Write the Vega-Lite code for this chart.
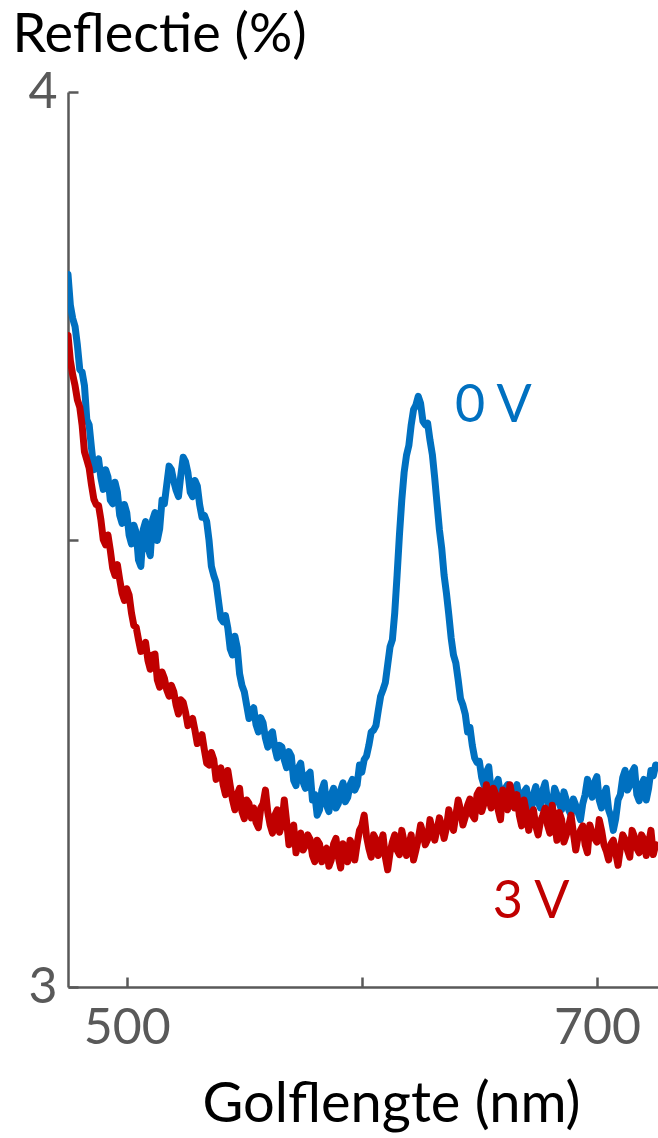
{
  "$schema": "https://vega.github.io/schema/vega-lite/v6.json",
  "width": 590,
  "height": 895,
  "autosize": {"type": "none"},
  "padding": {"left": 68, "top": 92, "right": 0, "bottom": 151},
  "background": "white",
  "config": {
    "view": {"stroke": null},
    "font": "Lato",
    "axis": {
      "grid": false,
      "domainColor": "#595959",
      "domainWidth": 2.5,
      "tickColor": "#595959",
      "tickWidth": 2.5,
      "tickSize": -10,
      "labelColor": "#595959",
      "labelFont": "Lato",
      "labelFontSize": 50,
      "labelFlush": false,
      "labelOverlap": false,
      "titleFont": "Lato",
      "titleFontWeight": "normal",
      "titleColor": "#000000"
    }
  },
  "datasets": {
    "spectra": [
      {"nm": 475, "b": 3.796, "r": 3.728},
      {"nm": 476, "b": 3.762, "r": 3.700},
      {"nm": 477, "b": 3.747, "r": 3.684},
      {"nm": 478, "b": 3.738, "r": 3.672},
      {"nm": 479, "b": 3.717, "r": 3.656},
      {"nm": 480, "b": 3.690, "r": 3.648},
      {"nm": 481, "b": 3.687, "r": 3.628},
      {"nm": 482, "b": 3.672, "r": 3.598},
      {"nm": 483, "b": 3.634, "r": 3.589},
      {"nm": 484, "b": 3.628, "r": 3.580},
      {"nm": 485, "b": 3.602, "r": 3.561},
      {"nm": 486, "b": 3.578, "r": 3.545},
      {"nm": 487, "b": 3.587, "r": 3.539},
      {"nm": 488, "b": 3.590, "r": 3.538},
      {"nm": 489, "b": 3.569, "r": 3.522},
      {"nm": 490, "b": 3.556, "r": 3.500},
      {"nm": 491, "b": 3.578, "r": 3.494},
      {"nm": 492, "b": 3.570, "r": 3.505},
      {"nm": 493, "b": 3.544, "r": 3.488},
      {"nm": 494, "b": 3.540, "r": 3.468},
      {"nm": 495, "b": 3.564, "r": 3.460},
      {"nm": 496, "b": 3.553, "r": 3.472},
      {"nm": 497, "b": 3.527, "r": 3.455},
      {"nm": 498, "b": 3.518, "r": 3.440},
      {"nm": 499, "b": 3.539, "r": 3.432},
      {"nm": 500, "b": 3.530, "r": 3.445},
      {"nm": 501, "b": 3.505, "r": 3.438},
      {"nm": 502, "b": 3.495, "r": 3.418},
      {"nm": 503, "b": 3.516, "r": 3.404},
      {"nm": 504, "b": 3.508, "r": 3.402},
      {"nm": 505, "b": 3.477, "r": 3.388},
      {"nm": 506, "b": 3.470, "r": 3.375},
      {"nm": 507, "b": 3.511, "r": 3.377},
      {"nm": 508, "b": 3.520, "r": 3.385},
      {"nm": 509, "b": 3.491, "r": 3.365},
      {"nm": 510, "b": 3.482, "r": 3.355},
      {"nm": 511, "b": 3.522, "r": 3.371},
      {"nm": 512, "b": 3.530, "r": 3.372},
      {"nm": 513, "b": 3.499, "r": 3.343},
      {"nm": 514, "b": 3.512, "r": 3.335},
      {"nm": 515, "b": 3.544, "r": 3.352},
      {"nm": 516, "b": 3.540, "r": 3.345},
      {"nm": 517, "b": 3.561, "r": 3.332},
      {"nm": 518, "b": 3.582, "r": 3.325},
      {"nm": 519, "b": 3.578, "r": 3.337},
      {"nm": 520, "b": 3.565, "r": 3.330},
      {"nm": 521, "b": 3.555, "r": 3.315},
      {"nm": 522, "b": 3.548, "r": 3.305},
      {"nm": 523, "b": 3.572, "r": 3.321},
      {"nm": 524, "b": 3.592, "r": 3.318},
      {"nm": 525, "b": 3.587, "r": 3.307},
      {"nm": 526, "b": 3.575, "r": 3.292},
      {"nm": 527, "b": 3.553, "r": 3.296},
      {"nm": 528, "b": 3.548, "r": 3.300},
      {"nm": 529, "b": 3.566, "r": 3.287},
      {"nm": 530, "b": 3.560, "r": 3.272},
      {"nm": 531, "b": 3.539, "r": 3.276},
      {"nm": 532, "b": 3.525, "r": 3.282},
      {"nm": 533, "b": 3.527, "r": 3.265},
      {"nm": 534, "b": 3.520, "r": 3.250},
      {"nm": 535, "b": 3.499, "r": 3.248},
      {"nm": 536, "b": 3.470, "r": 3.262},
      {"nm": 537, "b": 3.460, "r": 3.254},
      {"nm": 538, "b": 3.452, "r": 3.232},
      {"nm": 539, "b": 3.432, "r": 3.237},
      {"nm": 540, "b": 3.412, "r": 3.245},
      {"nm": 541, "b": 3.408, "r": 3.226},
      {"nm": 542, "b": 3.415, "r": 3.215},
      {"nm": 543, "b": 3.401, "r": 3.242},
      {"nm": 544, "b": 3.378, "r": 3.225},
      {"nm": 545, "b": 3.371, "r": 3.209},
      {"nm": 546, "b": 3.392, "r": 3.198},
      {"nm": 547, "b": 3.379, "r": 3.215},
      {"nm": 548, "b": 3.350, "r": 3.222},
      {"nm": 549, "b": 3.337, "r": 3.196},
      {"nm": 550, "b": 3.330, "r": 3.188},
      {"nm": 551, "b": 3.315, "r": 3.209},
      {"nm": 552, "b": 3.300, "r": 3.205},
      {"nm": 553, "b": 3.307, "r": 3.189},
      {"nm": 554, "b": 3.312, "r": 3.200},
      {"nm": 555, "b": 3.293, "r": 3.184},
      {"nm": 556, "b": 3.285, "r": 3.178},
      {"nm": 557, "b": 3.301, "r": 3.200},
      {"nm": 558, "b": 3.295, "r": 3.205},
      {"nm": 559, "b": 3.278, "r": 3.220},
      {"nm": 560, "b": 3.268, "r": 3.195},
      {"nm": 561, "b": 3.282, "r": 3.181},
      {"nm": 562, "b": 3.285, "r": 3.172},
      {"nm": 563, "b": 3.267, "r": 3.192},
      {"nm": 564, "b": 3.256, "r": 3.198},
      {"nm": 565, "b": 3.270, "r": 3.173},
      {"nm": 566, "b": 3.268, "r": 3.182},
      {"nm": 567, "b": 3.254, "r": 3.209},
      {"nm": 568, "b": 3.245, "r": 3.185},
      {"nm": 569, "b": 3.263, "r": 3.159},
      {"nm": 570, "b": 3.258, "r": 3.172},
      {"nm": 571, "b": 3.231, "r": 3.181},
      {"nm": 572, "b": 3.225, "r": 3.150},
      {"nm": 573, "b": 3.245, "r": 3.164},
      {"nm": 574, "b": 3.250, "r": 3.172},
      {"nm": 575, "b": 3.229, "r": 3.153},
      {"nm": 576, "b": 3.222, "r": 3.158},
      {"nm": 577, "b": 3.237, "r": 3.170},
      {"nm": 578, "b": 3.240, "r": 3.165},
      {"nm": 579, "b": 3.209, "r": 3.147},
      {"nm": 580, "b": 3.215, "r": 3.140},
      {"nm": 581, "b": 3.192, "r": 3.164},
      {"nm": 582, "b": 3.198, "r": 3.160},
      {"nm": 583, "b": 3.220, "r": 3.140},
      {"nm": 584, "b": 3.228, "r": 3.152},
      {"nm": 585, "b": 3.203, "r": 3.155},
      {"nm": 586, "b": 3.196, "r": 3.135},
      {"nm": 587, "b": 3.215, "r": 3.142},
      {"nm": 588, "b": 3.222, "r": 3.160},
      {"nm": 589, "b": 3.200, "r": 3.166},
      {"nm": 590, "b": 3.205, "r": 3.145},
      {"nm": 591, "b": 3.220, "r": 3.133},
      {"nm": 592, "b": 3.228, "r": 3.160},
      {"nm": 593, "b": 3.207, "r": 3.153},
      {"nm": 594, "b": 3.212, "r": 3.140},
      {"nm": 595, "b": 3.226, "r": 3.164},
      {"nm": 596, "b": 3.232, "r": 3.158},
      {"nm": 597, "b": 3.220, "r": 3.142},
      {"nm": 598, "b": 3.226, "r": 3.160},
      {"nm": 599, "b": 3.248, "r": 3.175},
      {"nm": 600, "b": 3.240, "r": 3.180},
      {"nm": 601, "b": 3.254, "r": 3.192},
      {"nm": 602, "b": 3.258, "r": 3.168},
      {"nm": 603, "b": 3.270, "r": 3.155},
      {"nm": 604, "b": 3.285, "r": 3.145},
      {"nm": 605, "b": 3.287, "r": 3.170},
      {"nm": 606, "b": 3.292, "r": 3.165},
      {"nm": 607, "b": 3.309, "r": 3.147},
      {"nm": 608, "b": 3.325, "r": 3.158},
      {"nm": 609, "b": 3.332, "r": 3.170},
      {"nm": 610, "b": 3.340, "r": 3.145},
      {"nm": 611, "b": 3.360, "r": 3.131},
      {"nm": 612, "b": 3.380, "r": 3.150},
      {"nm": 613, "b": 3.388, "r": 3.162},
      {"nm": 614, "b": 3.418, "r": 3.170},
      {"nm": 615, "b": 3.460, "r": 3.153},
      {"nm": 616, "b": 3.505, "r": 3.148},
      {"nm": 617, "b": 3.544, "r": 3.175},
      {"nm": 618, "b": 3.575, "r": 3.162},
      {"nm": 619, "b": 3.594, "r": 3.147},
      {"nm": 620, "b": 3.605, "r": 3.158},
      {"nm": 621, "b": 3.628, "r": 3.170},
      {"nm": 622, "b": 3.645, "r": 3.142},
      {"nm": 623, "b": 3.650, "r": 3.153},
      {"nm": 624, "b": 3.660, "r": 3.165},
      {"nm": 625, "b": 3.652, "r": 3.181},
      {"nm": 626, "b": 3.632, "r": 3.172},
      {"nm": 627, "b": 3.628, "r": 3.159},
      {"nm": 628, "b": 3.630, "r": 3.165},
      {"nm": 629, "b": 3.611, "r": 3.187},
      {"nm": 630, "b": 3.595, "r": 3.175},
      {"nm": 631, "b": 3.569, "r": 3.164},
      {"nm": 632, "b": 3.540, "r": 3.176},
      {"nm": 633, "b": 3.511, "r": 3.189},
      {"nm": 634, "b": 3.490, "r": 3.180},
      {"nm": 635, "b": 3.460, "r": 3.166},
      {"nm": 636, "b": 3.440, "r": 3.178},
      {"nm": 637, "b": 3.416, "r": 3.198},
      {"nm": 638, "b": 3.390, "r": 3.185},
      {"nm": 639, "b": 3.371, "r": 3.175},
      {"nm": 640, "b": 3.362, "r": 3.192},
      {"nm": 641, "b": 3.343, "r": 3.209},
      {"nm": 642, "b": 3.322, "r": 3.198},
      {"nm": 643, "b": 3.315, "r": 3.181},
      {"nm": 644, "b": 3.305, "r": 3.190},
      {"nm": 645, "b": 3.285, "r": 3.203},
      {"nm": 646, "b": 3.290, "r": 3.210},
      {"nm": 647, "b": 3.270, "r": 3.192},
      {"nm": 648, "b": 3.256, "r": 3.188},
      {"nm": 649, "b": 3.251, "r": 3.215},
      {"nm": 650, "b": 3.252, "r": 3.220},
      {"nm": 651, "b": 3.234, "r": 3.196},
      {"nm": 652, "b": 3.225, "r": 3.205},
      {"nm": 653, "b": 3.240, "r": 3.226},
      {"nm": 654, "b": 3.246, "r": 3.212},
      {"nm": 655, "b": 3.220, "r": 3.200},
      {"nm": 656, "b": 3.212, "r": 3.222},
      {"nm": 657, "b": 3.226, "r": 3.215},
      {"nm": 658, "b": 3.232, "r": 3.198},
      {"nm": 659, "b": 3.215, "r": 3.187},
      {"nm": 660, "b": 3.205, "r": 3.220},
      {"nm": 661, "b": 3.222, "r": 3.209},
      {"nm": 662, "b": 3.226, "r": 3.198},
      {"nm": 663, "b": 3.211, "r": 3.226},
      {"nm": 664, "b": 3.202, "r": 3.212},
      {"nm": 665, "b": 3.220, "r": 3.200},
      {"nm": 666, "b": 3.226, "r": 3.215},
      {"nm": 667, "b": 3.209, "r": 3.192},
      {"nm": 668, "b": 3.200, "r": 3.180},
      {"nm": 669, "b": 3.218, "r": 3.209},
      {"nm": 670, "b": 3.222, "r": 3.195},
      {"nm": 671, "b": 3.203, "r": 3.175},
      {"nm": 672, "b": 3.195, "r": 3.192},
      {"nm": 673, "b": 3.215, "r": 3.198},
      {"nm": 674, "b": 3.224, "r": 3.180},
      {"nm": 675, "b": 3.207, "r": 3.170},
      {"nm": 676, "b": 3.200, "r": 3.185},
      {"nm": 677, "b": 3.220, "r": 3.192},
      {"nm": 678, "b": 3.228, "r": 3.200},
      {"nm": 679, "b": 3.209, "r": 3.181},
      {"nm": 680, "b": 3.198, "r": 3.172},
      {"nm": 681, "b": 3.203, "r": 3.203},
      {"nm": 682, "b": 3.222, "r": 3.185},
      {"nm": 683, "b": 3.215, "r": 3.164},
      {"nm": 684, "b": 3.205, "r": 3.195},
      {"nm": 685, "b": 3.198, "r": 3.187},
      {"nm": 686, "b": 3.218, "r": 3.162},
      {"nm": 687, "b": 3.209, "r": 3.170},
      {"nm": 688, "b": 3.198, "r": 3.180},
      {"nm": 689, "b": 3.192, "r": 3.192},
      {"nm": 690, "b": 3.210, "r": 3.172},
      {"nm": 691, "b": 3.203, "r": 3.153},
      {"nm": 692, "b": 3.195, "r": 3.168},
      {"nm": 693, "b": 3.187, "r": 3.175},
      {"nm": 694, "b": 3.205, "r": 3.180},
      {"nm": 695, "b": 3.215, "r": 3.159},
      {"nm": 696, "b": 3.232, "r": 3.150},
      {"nm": 697, "b": 3.220, "r": 3.181},
      {"nm": 698, "b": 3.212, "r": 3.172},
      {"nm": 699, "b": 3.229, "r": 3.166},
      {"nm": 700, "b": 3.235, "r": 3.162},
      {"nm": 701, "b": 3.209, "r": 3.187},
      {"nm": 702, "b": 3.200, "r": 3.175},
      {"nm": 703, "b": 3.215, "r": 3.159},
      {"nm": 704, "b": 3.222, "r": 3.152},
      {"nm": 705, "b": 3.198, "r": 3.142},
      {"nm": 706, "b": 3.190, "r": 3.160},
      {"nm": 707, "b": 3.175, "r": 3.164},
      {"nm": 708, "b": 3.188, "r": 3.150},
      {"nm": 709, "b": 3.209, "r": 3.136},
      {"nm": 710, "b": 3.215, "r": 3.155},
      {"nm": 711, "b": 3.234, "r": 3.170},
      {"nm": 712, "b": 3.242, "r": 3.165},
      {"nm": 713, "b": 3.220, "r": 3.153},
      {"nm": 714, "b": 3.225, "r": 3.145},
      {"nm": 715, "b": 3.240, "r": 3.175},
      {"nm": 716, "b": 3.245, "r": 3.168},
      {"nm": 717, "b": 3.215, "r": 3.155},
      {"nm": 718, "b": 3.208, "r": 3.150},
      {"nm": 719, "b": 3.226, "r": 3.170},
      {"nm": 720, "b": 3.232, "r": 3.165},
      {"nm": 721, "b": 3.209, "r": 3.147},
      {"nm": 722, "b": 3.222, "r": 3.160},
      {"nm": 723, "b": 3.242, "r": 3.175},
      {"nm": 724, "b": 3.236, "r": 3.148},
      {"nm": 725, "b": 3.248, "r": 3.159}
    ],
    "labels": [
      {"nm": 639.6, "v": 3.631, "label": "0 V", "series": "0 V"},
      {"nm": 655.7, "v": 3.077, "label": "3 V", "series": "3 V"}
    ]
  },
  "layer": [
    {
      "data": {"name": "spectra"},
      "mark": {"type": "line", "color": "#0070C0", "strokeWidth": 7, "strokeJoin": "round", "strokeCap": "round", "clip": true},
      "encoding": {
        "x": {
          "field": "nm", "type": "quantitative",
          "scale": {"domain": [475, 726], "nice": false, "zero": false},
          "axis": {
            "values": [500, 600, 700],
            "labelExpr": "datum.value == 600 ? '' : datum.value + ''",
            "labelBaseline": "alphabetic",
            "labelPadding": 66,
            "title": "Golflengte (nm)",
            "titleFontSize": 56,
            "titleX": 323,
            "titleY": 134,
            "titleAlign": "center",
            "titleBaseline": "alphabetic",
            "titleAnchor": null
          }
        },
        "y": {
          "field": "b", "type": "quantitative",
          "scale": {"domain": [3, 4], "nice": false, "zero": false},
          "axis": {
            "values": [3, 3.5, 4],
            "labelExpr": "datum.value == 3.5 ? '' : datum.value + ''",
            "labelBaseline": "middle",
            "labelPadding": 21,
            "title": "Reflectie (%)",
            "titleFontSize": 54,
            "titleAngle": 0,
            "titleX": -56,
            "titleY": -41,
            "titleAlign": "left",
            "titleBaseline": "alphabetic",
            "titleAnchor": null
          }
        }
      }
    },
    {
      "data": {"name": "spectra"},
      "mark": {"type": "line", "color": "#C00000", "strokeWidth": 7, "strokeJoin": "round", "strokeCap": "round", "clip": true},
      "encoding": {
        "x": {"field": "nm", "type": "quantitative"},
        "y": {"field": "r", "type": "quantitative"}
      }
    },
    {
      "data": {"name": "labels"},
      "mark": {"type": "text", "align": "left", "baseline": "alphabetic", "font": "Lato", "fontSize": 52},
      "encoding": {
        "x": {"field": "nm", "type": "quantitative"},
        "y": {"field": "v", "type": "quantitative"},
        "text": {"field": "label"},
        "color": {
          "field": "series", "type": "nominal",
          "scale": {"domain": ["0 V", "3 V"], "range": ["#0070C0", "#C00000"]},
          "legend": null
        }
      }
    }
  ]
}
